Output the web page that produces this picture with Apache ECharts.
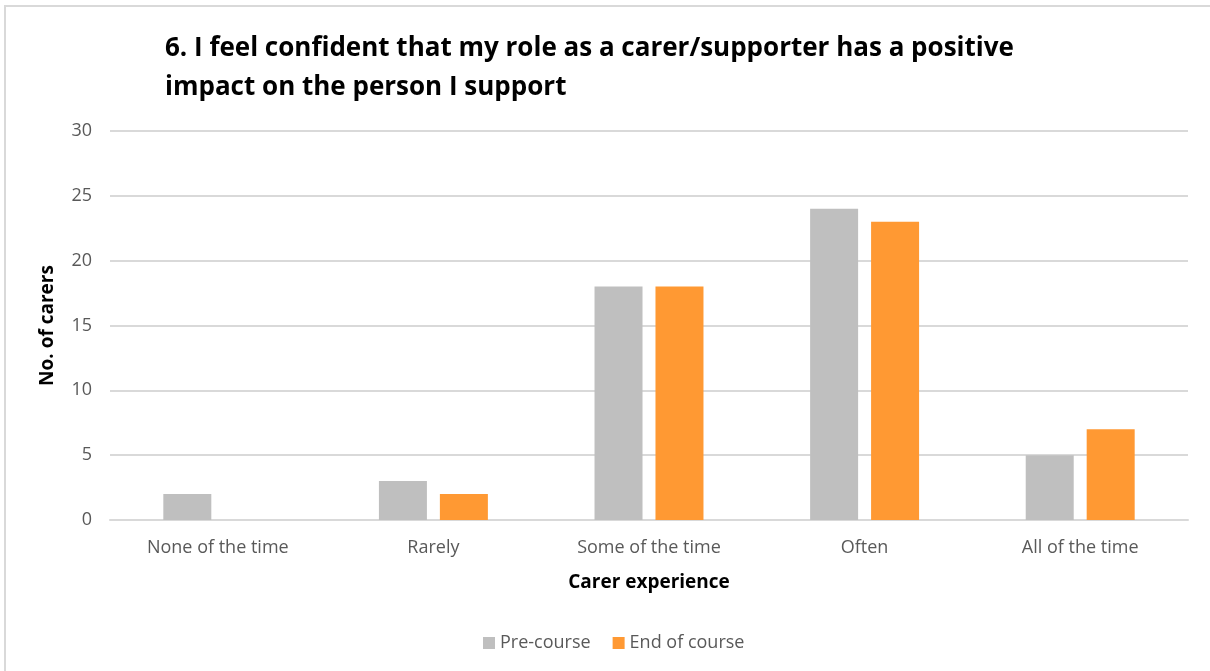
<!DOCTYPE html>
<html>
<head>
<meta charset="utf-8">
<script src="https://cdn.jsdelivr.net/npm/echarts@6/dist/echarts.min.js"></script>
<style>
  html, body { margin: 0; padding: 0; background: #fff; }
  #chart { width: 1210px; height: 671px; }
</style>
</head>
<body>
<div id="chart"></div>
<script>
// Survey question 6: carer confidence, before and after the course
const categories = ['None of the time', 'Rarely', 'Some of the time', 'Often', 'All of the time'];
const preCourse = [2, 3, 18, 24, 5];
const endOfCourse = [0, 2, 18, 23, 7];
const seriesNames = ['Pre-course', 'End of course'];
const yTicks = { min: 0, max: 30, interval: 5 };

const font = '"Open Sans", "Noto Sans", sans-serif';
const chart = echarts.init(document.getElementById('chart'));

chart.setOption({
  animation: false,
  backgroundColor: '#ffffff',
  title: {
    text: '6. I feel confident that my role as a carer/supporter has a positive\nimpact on the person I support',
    left: 160,
    top: 24,
    textStyle: {
      fontFamily: font,
      fontWeight: 'bold',
      fontSize: 26,
      lineHeight: 39,
      color: '#000000'
    }
  },
  graphic: [{
    type: 'rect',
    shape: { x: 5, y: 6, width: 1400, height: 900 },
    style: { fill: 'none', stroke: '#d9d9d9', lineWidth: 2 },
    silent: true
  }],
  legend: {
    data: seriesNames,
    bottom: 14,
    left: 478,
    itemWidth: 12,
    itemHeight: 12,
    itemGap: 22,
    icon: 'rect',
    textStyle: { fontFamily: font, fontSize: 18, color: '#595959' }
  },
  grid: {
    left: 110,
    right: 22,
    top: 131,
    bottom: 151,
    containLabel: false
  },
  xAxis: {
    type: 'category',
    data: categories,
    name: 'Carer experience',
    nameLocation: 'middle',
    nameGap: 53,
    nameTextStyle: { fontFamily: font, fontWeight: 'bold', fontSize: 19, color: '#000000' },
    axisLine: { show: true, lineStyle: { color: '#d9d9d9', width: 2 } },
    axisTick: { show: false },
    axisLabel: { fontFamily: font, fontSize: 18, color: '#595959', margin: 19 }
  },
  yAxis: {
    type: 'value',
    min: yTicks.min,
    max: yTicks.max,
    interval: yTicks.interval,
    name: 'No. of carers',
    nameLocation: 'middle',
    nameGap: 53,
    nameRotate: 90,
    nameTextStyle: { fontFamily: font, fontWeight: 'bold', fontSize: 19, color: '#000000' },
    axisLine: { show: false },
    axisTick: { show: false },
    axisLabel: { fontFamily: font, fontSize: 18, color: '#595959', margin: 18 },
    splitLine: { lineStyle: { color: '#d9d9d9', width: 2 } }
  },
  series: [
    {
      name: seriesNames[0],
      type: 'bar',
      data: preCourse,
      barWidth: 48,
      barGap: '27%',
      itemStyle: { color: '#bfbfbf' }
    },
    {
      name: seriesNames[1],
      type: 'bar',
      data: endOfCourse,
      barWidth: 48,
      barGap: '27%',
      itemStyle: { color: '#ff9933' }
    }
  ]
});
</script>
</body>
</html>
